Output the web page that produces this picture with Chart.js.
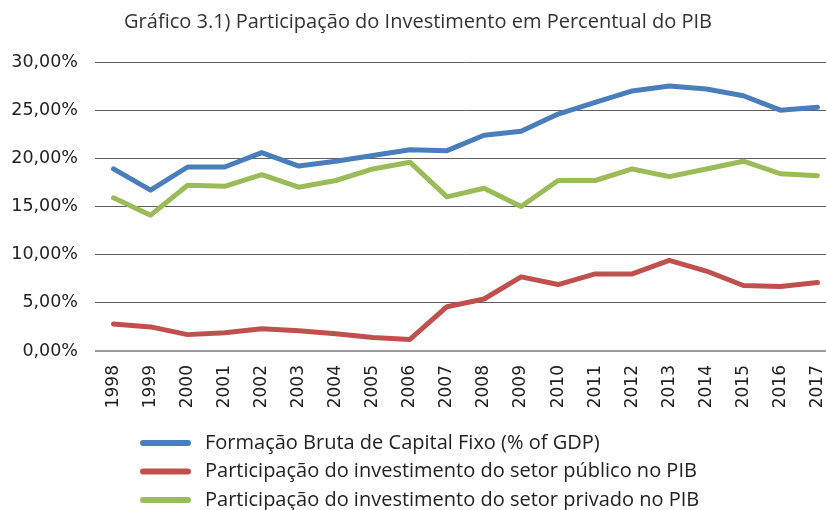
<!DOCTYPE html>
<html>
<head>
<meta charset="utf-8">
<script src="https://cdn.jsdelivr.net/npm/chart.js@4.4.1/dist/chart.umd.min.js"></script>
<style>
  html, body { margin: 0; padding: 0; background: #fff; overflow: hidden; }
  #wrap { width: 826px; height: 510px; overflow: hidden; }
</style>
</head>
<body>
<div id="wrap"><canvas id="chart" width="846" height="510"></canvas></div>
<script>
// -- data --
const years = ['1998','1999','2000','2001','2002','2003','2004','2005','2006','2007',
               '2008','2009','2010','2011','2012','2013','2014','2015','2016','2017'];
const fbcf    = [18.9, 16.7, 19.1, 19.1, 20.6, 19.2, 19.7, 20.3, 20.9, 20.8,
                 22.4, 22.8, 24.6, 25.8, 27.0, 27.5, 27.2, 26.5, 25.0, 25.3];
const publico = [2.8, 2.5, 1.7, 1.9, 2.3, 2.1, 1.8, 1.4, 1.2, 4.6,
                 5.4, 7.7, 6.9, 8.0, 8.0, 9.4, 8.3, 6.8, 6.7, 7.1];
const privado = [15.9, 14.1, 17.2, 17.1, 18.3, 17.0, 17.7, 18.9, 19.6, 16.0,
                 16.9, 15.0, 17.7, 17.7, 18.9, 18.1, 18.9, 19.7, 18.4, 18.2];
const yTicks = [0, 5, 10, 15, 20, 25, 30];

// legend drawn as a vertical list under the axis
const listLegend = {
  id: 'listLegend',
  afterDraw(chart) {
    const ctx = chart.ctx;
    ctx.save();
    ctx.font = '20px "Open Sans"';
    ctx.textBaseline = 'middle';
    chart.data.datasets.forEach((ds, i) => {
      const y = 443 + i * 28.5;
      ctx.strokeStyle = ds.borderColor;
      ctx.lineWidth = 6;
      ctx.lineCap = 'round';
      ctx.beginPath();
      ctx.moveTo(143, y);
      ctx.lineTo(188, y);
      ctx.stroke();
      ctx.fillStyle = '#222';
      ctx.fillText(ds.label, 205, y);
    });
    ctx.restore();
  }
};

new Chart(document.getElementById('chart').getContext('2d'), {
  type: 'line',
  data: {
    labels: years,
    datasets: [
      { label: 'Formação Bruta de Capital Fixo (% of GDP)', data: fbcf, borderColor: '#4a7ebb' },
      { label: 'Participação do investimento do setor público no PIB', data: publico, borderColor: '#c0504d' },
      { label: 'Participação do investimento do setor privado no PIB', data: privado, borderColor: '#9bbb59' }
    ]
  },
  options: {
    responsive: false,
    animation: false,
    elements: {
      line: { borderWidth: 5, tension: 0, borderCapStyle: 'round', borderJoinStyle: 'round' },
      point: { radius: 0 }
    },
    layout: { padding: { left: 0, right: 10, bottom: 99, top: 0 } },
    plugins: {
      legend: { display: false },
      tooltip: { enabled: false },
      title: {
        display: true,
        text: 'Gráfico 3.1) Participação do Investimento em Percentual do PIB',
        color: '#333',
        font: { family: '"Open Sans"', size: 20, weight: 'normal' },
        padding: { top: 10, bottom: 28 }
      }
    },
    scales: {
      x: {
        offset: true,
        grid: { display: false },
        border: { display: false },
        afterFit(scale) { scale.height = 60; },
        ticks: {
          minRotation: 90, maxRotation: 90, padding: 6,
          color: '#222', font: { family: '"DejaVu Sans"', size: 17 }
        }
      },
      y: {
        min: 0, max: 30,
        afterFit(scale) { scale.width = 95; },
        afterBuildTicks(scale) { scale.ticks = yTicks.map(v => ({ value: v })); },
        border: { display: false },
        grid: {
          drawTicks: false,
          color: c => c.tick && c.tick.value === 0 ? '#9a9a9a' : '#5f5f5f',
          lineWidth: c => c.tick && c.tick.value === 0 ? 2 : 1
        },
        ticks: {
          padding: 17, color: '#222',
          font: { family: '"DejaVu Sans"', size: 17.5 },
          callback: v => v.toFixed(2).replace('.', ',') + '%'
        }
      }
    }
  },
  plugins: [listLegend]
});
</script>
</body>
</html>
